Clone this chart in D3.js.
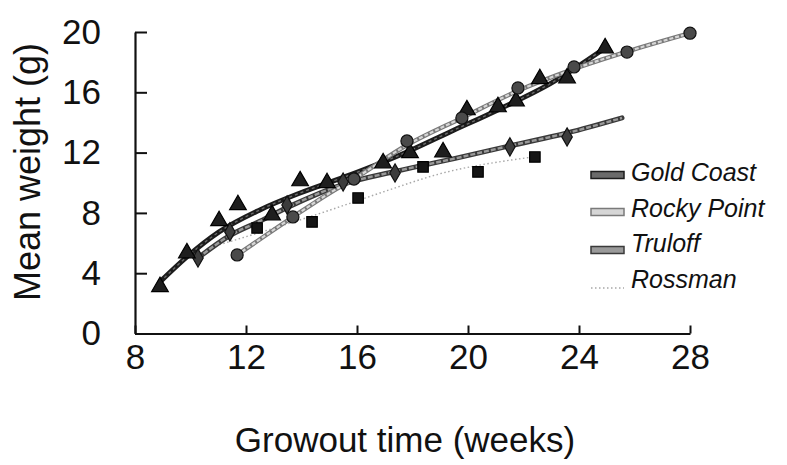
<!DOCTYPE html>
<html><head><meta charset="utf-8">
<script src="https://cdn.jsdelivr.net/npm/d3@7"></script>
<style>
body{margin:0;background:#fff}
text{font-family:"Liberation Sans",Arial,sans-serif;fill:#111}
</style>
</head><body>
<svg id="chart" width="787" height="465"></svg>
<script>
// Axis ticks
const xTicks = [8, 12, 16, 20, 24, 28];
const yTicks = [0, 4, 8, 12, 16, 20];
const seriesNames = ["Gold Coast", "Rocky Point", "Truloff", "Rossman"];

// Observed mean weights (weeks, grams)
const goldCoastPts = [[8.9,3.1],[9.87,5.34],[11.03,7.47],[11.71,8.53],[12.94,7.86],[13.95,10.12],[14.92,9.99],[16.94,11.31],[17.91,11.98],[19.1,12.04],[19.96,14.83],[21.08,15.03],[21.73,15.42],[22.59,16.89],[23.57,16.95],[24.94,18.94]];
const rockyPointPts = [[11.68,5.21],[13.69,7.73],[15.89,10.25],[17.8,12.77],[19.78,14.3],[21.8,16.29],[23.82,17.68],[25.73,18.67],[28.0,19.92]];
const truloffPts = [[10.27,5.01],[11.42,6.74],[13.48,8.53],[15.5,10.05],[17.37,10.65],[21.51,12.38],[23.57,13.04]];
const rossmanPts = [[12.4,7.0],[14.38,7.4],[16.04,8.99],[18.38,11.05],[20.36,10.72],[22.41,11.71]];

// Fitted growth curves
const goldCoastFit = [[8.9,3.42],[9.87,5.08],[11.03,6.74],[12.5,8.2],[13.95,9.32],[15.75,10.52],[17.55,11.84],[19.35,13.37],[21.15,14.9],[22.95,16.56],[24.94,18.94]];
const rockyPointFit = [[11.68,5.21],[12.7,6.5],[13.69,7.73],[15.0,9.3],[15.89,10.25],[17.8,12.5],[19.78,14.3],[21.8,16.1],[23.82,17.55],[25.73,18.7],[28.0,19.92]];
const truloffFit = [[10.27,5.01],[11.42,6.5],[12.5,7.45],[13.59,8.45],[15.5,9.9],[17.37,10.75],[19.5,11.6],[21.51,12.45],[23.57,13.3],[25.55,14.3]];
const rossmanFit = [[10.63,5.67],[12.5,6.7],[15.03,8.19],[16.83,9.32],[19.0,10.6],[22.3,11.7]];

const svg = d3.select("#chart");
const x = d3.scaleLinear().domain([8, 28]).range([135, 690]);
const y = d3.scaleLinear().domain([0, 20]).range([333.5, 32]);

// Axes with inward ticks
const gy = svg.append("g").attr("transform", `translate(${x(8)},0)`)
  .call(d3.axisLeft(y).tickValues(yTicks).tickSizeInner(-12).tickSizeOuter(0).tickPadding(34));
const gx = svg.append("g").attr("transform", `translate(0,${y(0)})`)
  .call(d3.axisBottom(x).tickValues(xTicks).tickSizeInner(-8).tickSizeOuter(0).tickPadding(11));
[gy, gx].forEach(g => {
  g.select(".domain").attr("stroke", "#111").attr("stroke-width", 2.2);
  g.selectAll(".tick line").attr("stroke", "#111").attr("stroke-width", 2);
  g.selectAll(".tick text").attr("font-size", 35).attr("font-family", "Liberation Sans, Arial, sans-serif").attr("fill", "#111");
});

svg.append("text").attr("transform", `translate(30,172) rotate(-90)`)
  .attr("text-anchor", "middle").attr("dominant-baseline", "middle").attr("font-size", 36)
  .text("Mean weight (g)");
svg.append("text").attr("x", 405).attr("y", 452)
  .attr("text-anchor", "middle").attr("font-size", 35)
  .text("Growout time (weeks)");

const line = d3.line().x(d => x(d[0])).y(d => y(d[1])).curve(d3.curveMonotoneX);

// Line styles: outer stroke, inner stroke, inner dash
const styles = [
  {outer:"#1c1c1c", ow:5, inner:"#6a6a6a", iw:1.4, dash:"3,3"},
  {outer:"#7a7a7a", ow:4.5, inner:"#d6d6d6", iw:2.2, dash:"4,2"},
  {outer:"#3a3a3a", ow:5, inner:"#9a9a9a", iw:2.4, dash:"5,2"},
  {outer:"#a8a8a8", ow:1.4, inner:null, dash:"1.5,2.5"}
];
const fits = [goldCoastFit, rockyPointFit, truloffFit, rossmanFit];

function drawLine(g, path, s) {
  if (s.inner) {
    g.append("path").attr("d", path).attr("fill", "none").attr("stroke", s.outer).attr("stroke-width", s.ow).attr("stroke-linecap","round");
    g.append("path").attr("d", path).attr("fill", "none").attr("stroke", s.inner).attr("stroke-width", s.iw).attr("stroke-dasharray", s.dash);
  } else {
    g.append("path").attr("d", path).attr("fill", "none").attr("stroke", s.outer).attr("stroke-width", s.ow).attr("stroke-dasharray", s.dash);
  }
}

const lines = svg.append("g");
[3, 2, 0, 1].forEach(i => drawLine(lines, line(fits[i]), styles[i]));

// Markers
const marks = svg.append("g");
function drawMarks(pts, type, size, fill, stroke) {
  marks.selectAll(null).data(pts).join("path")
    .attr("transform", d => `translate(${x(d[0])},${y(d[1])})`)
    .attr("d", d3.symbol().type(type).size(size))
    .attr("fill", fill).attr("stroke", stroke).attr("stroke-width", 1.2);
}
drawMarks(rossmanPts, d3.symbolSquare, 110, "#151515", "#000");
drawMarks(truloffPts, d3.symbolDiamond, 95, "#3c3c3c", "#111");
drawMarks(goldCoastPts, d3.symbolTriangle, 120, "#1e1e1e", "#000");
drawMarks(rockyPointPts, d3.symbolCircle, 115, "#4a4a4a", "#111");

// Legend
const legend = svg.append("g");
const swatchY = [175, 212, 250, 288];
const textY = [181, 217, 252, 288];
seriesNames.forEach((name, i) => {
  const s = styles[i];
  if (s.inner) {
    legend.append("rect").attr("x", 591).attr("y", swatchY[i]-3.5).attr("width", 33).attr("height", 7)
      .attr("fill", s.inner).attr("stroke", s.outer).attr("stroke-width", 1.5);
  } else {
    legend.append("line").attr("x1", 591).attr("x2", 624).attr("y1", swatchY[i]).attr("y2", swatchY[i])
      .attr("stroke", s.outer).attr("stroke-width", 1.4).attr("stroke-dasharray", s.dash);
  }
  legend.append("text").attr("x", 631).attr("y", textY[i]).attr("font-size", 25)
    .attr("font-style", "italic").text(name);
});
</script>
</body></html>
